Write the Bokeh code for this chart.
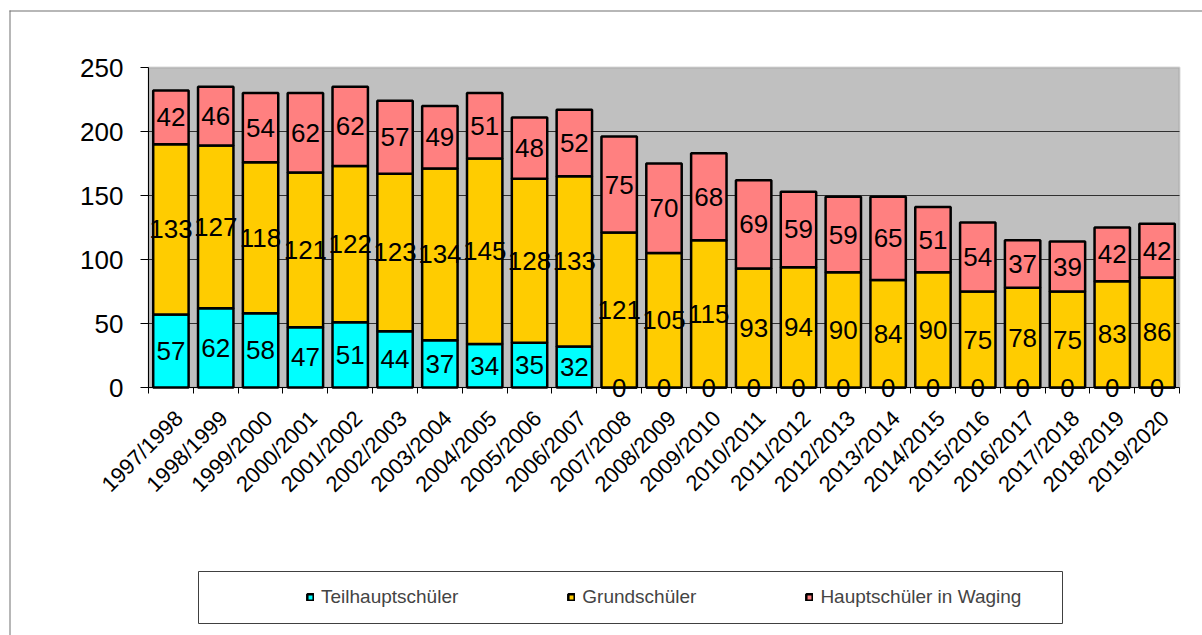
import numpy as np
from bokeh.plotting import figure
from bokeh.models import (ColumnDataSource, Range1d, FixedTicker, LabelSet, Legend,
                          LegendItem, BoxAnnotation)
from bokeh.core.properties import value
from bokeh.embed import file_html
from bokeh.resources import INLINE

years = ["1997/1998", "1998/1999", "1999/2000", "2000/2001", "2001/2002", "2002/2003",
         "2003/2004", "2004/2005", "2005/2006", "2006/2007", "2007/2008", "2008/2009",
         "2009/2010", "2010/2011", "2011/2012", "2012/2013", "2013/2014", "2014/2015",
         "2015/2016", "2016/2017", "2017/2018", "2018/2019", "2019/2020"]
teil = [57, 62, 58, 47, 51, 44, 37, 34, 35, 32, 0, 0, 0, 0, 0, 0, 0, 0, 0, 0, 0, 0, 0]
grund = [133, 127, 118, 121, 122, 123, 134, 145, 128, 133, 121, 105, 115, 93, 94, 90,
         84, 90, 75, 78, 75, 83, 86]
haupt = [42, 46, 54, 62, 62, 57, 49, 51, 48, 52, 75, 70, 68, 69, 59, 59, 65, 51, 54,
         37, 39, 42, 42]
series_names = ["Teilhauptschüler", "Grundschüler", "Hauptschüler in Waging"]
colors = ["#00FFFF", "#FFCC00", "#FF8080"]
y_ticks = [0, 50, 100, 150, 200, 250]

FONT = "Liberation Sans"
n = len(years)
xc = np.arange(n) + 0.5
Y_MAX = 250

# canvas layout (pixels): plot area from x=148..1179, y=67..387
W, H = 1202, 635
PL, PR, PT, PB = 148, 1179, 67, 387
sx = (PR - PL) / n
sy = (PB - PT) / Y_MAX
x_range = Range1d(-PL / sx, (W - PL) / sx)
y_range = Range1d(-(H - PB) / sy, PB / sy)

p = figure(width=W, height=H, output_backend="svg", toolbar_location=None,
           x_range=x_range, y_range=y_range, title=None,
           min_border_left=0, min_border_right=0, min_border_top=0,
           min_border_bottom=0, background_fill_color="white",
           border_fill_color="white")
p.outline_line_color = None
p.xgrid.visible = False
p.ygrid.visible = False

# plot area
plot_area = BoxAnnotation(left=0, right=n, bottom=0, top=Y_MAX, fill_color="#C0C0C0",
                          fill_alpha=1, line_color="#808080", line_width=2,
                          level="image")
p.add_layout(plot_area)

# gridlines
grid_ticks = [t for t in y_ticks if 0 < t < Y_MAX]
p.segment(x0=[0] * len(grid_ticks), x1=[n] * len(grid_ticks), y0=grid_ticks,
          y1=grid_ticks, line_color="#303030", line_width=1)

vals = [np.array(teil), np.array(grund), np.array(haupt)]
bottoms = [np.zeros(n), vals[0], vals[0] + vals[1]]
renderers = []
lab_x, lab_y, lab_t = [], [], []
for v, b, c in zip(vals, bottoms, colors):
    src = ColumnDataSource(dict(x=xc, bottom=b, top=b + v))
    r = p.vbar(x="x", bottom="bottom", top="top", width=0.79, source=src,
               fill_color=c, line_color="black", line_width=2.5)
    renderers.append(r)
    lab_x += list(xc)
    lab_y += list(b + v / 2.0)
    lab_t += [str(int(t)) for t in v]

lsrc = ColumnDataSource(dict(x=lab_x, y=lab_y, text=lab_t))
labels = LabelSet(x="x", y="y", text="text", source=lsrc, text_align="center",
                  text_baseline="middle", text_font_size=value("26px"),
                  text_font=value(FONT), text_color="black")
p.add_layout(labels)

# axes
label_shift = 0.18
xa = p.xaxis[0]
xa.fixed_location = 0
xa.bounds = (0, n)
xa.ticker = FixedTicker(ticks=list(xc + label_shift), minor_ticks=list(range(n + 1)))
xa.major_label_overrides = {float(x + label_shift): y for x, y in zip(xc, years)}
xa.major_tick_line_color = None
xa.major_tick_out = 0
xa.major_tick_in = 0
xa.minor_tick_line_color = "black"
xa.minor_tick_out = 6
xa.minor_tick_in = 0
xa.axis_line_color = "black"
xa.major_label_orientation = np.pi / 4
xa.major_label_text_font_size = "22px"
xa.major_label_text_font = FONT
xa.major_label_text_color = "black"
xa.major_label_standoff = 21

ya = p.yaxis[0]
ya.fixed_location = 0
ya.bounds = (0, Y_MAX)
ya.ticker = FixedTicker(ticks=y_ticks)
ya.minor_tick_line_color = None
ya.major_tick_out = 8
ya.major_tick_in = 0
ya.major_tick_line_color = "black"
ya.axis_line_color = "black"
ya.major_label_text_font_size = "26px"
ya.major_label_text_font = FONT
ya.major_label_text_color = "black"
ya.major_label_standoff = 17

legend = Legend(items=[LegendItem(label=nm, renderers=[r]) for nm, r in zip(series_names, renderers)],
                orientation="horizontal", location=(306, 27), glyph_width=8,
                glyph_height=8, label_standoff=7, spacing=109, padding=0, margin=0,
                label_height=22,
                label_text_font_size="19px", label_text_font=FONT,
                border_line_color=None, background_fill_alpha=0)
p.add_layout(legend)

legend_box = BoxAnnotation(left=198, right=1062, top=571, bottom=623,
                           left_units="canvas", right_units="canvas",
                           top_units="canvas", bottom_units="canvas",
                           fill_color=None, fill_alpha=0, line_color="#404040",
                           line_width=1, line_alpha=1)
p.add_layout(legend_box)

# outer chart frame: only the top and left edges fall inside the window
frame_top = BoxAnnotation(left=9, right=W, top=10, bottom=11,
                          left_units="canvas", right_units="canvas",
                          top_units="canvas", bottom_units="canvas",
                          fill_color="#707070", fill_alpha=1, line_color=None)
frame_left = BoxAnnotation(left=9, right=10, top=10, bottom=H,
                           left_units="canvas", right_units="canvas",
                           top_units="canvas", bottom_units="canvas",
                           fill_color="#707070", fill_alpha=1, line_color=None)
p.add_layout(frame_top)
p.add_layout(frame_left)

open("out.html", "w").write(file_html(p, INLINE))
